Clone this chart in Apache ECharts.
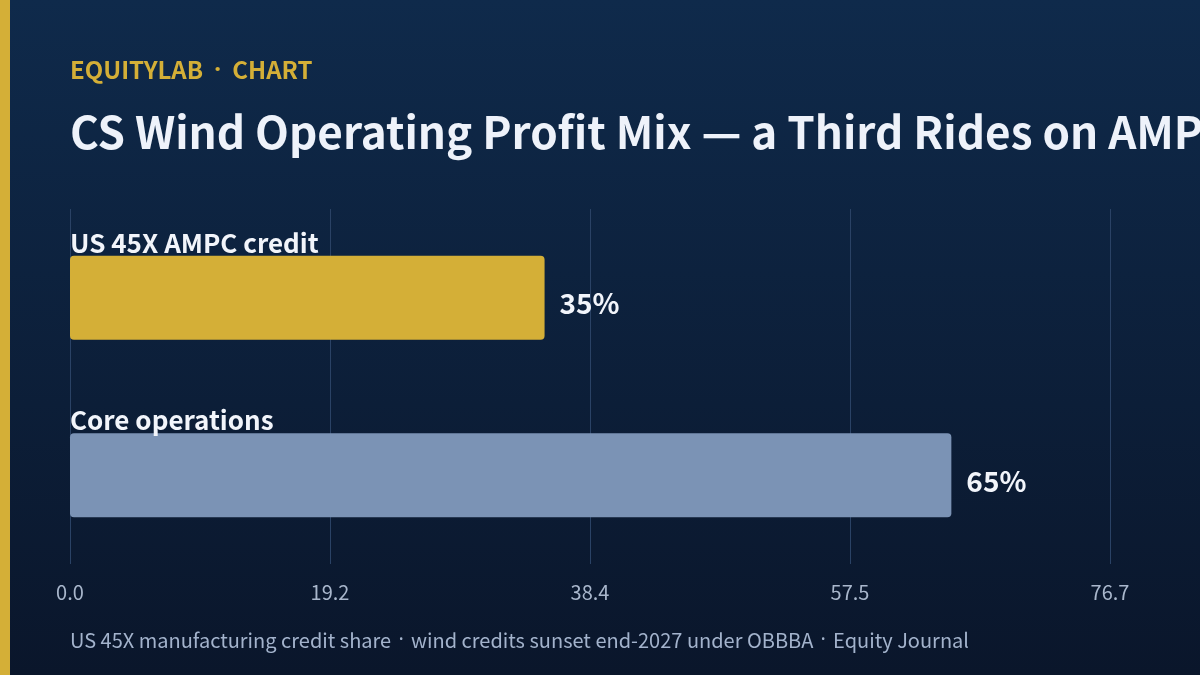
<!DOCTYPE html>
<html>
<head>
<meta charset="utf-8">
<script src="https://cdn.jsdelivr.net/npm/echarts@6/dist/echarts.min.js"></script>
<style>
  html, body { margin: 0; padding: 0; background: #0b1a31; }
  #chart { width: 1200px; height: 675px; }
</style>
</head>
<body>
<div id="chart"></div>
<script>
var categories = ['US 45X AMPC credit', 'Core operations'];
var shares = [35, 65];
var barColors = ['#d4af37', '#7b93b5'];
var axisMax = 76.7;

var font = '"Noto Sans CJK SC", "Noto Sans", sans-serif';
var dotFont = '"Noto Sans", sans-serif';

var chart = echarts.init(document.getElementById('chart'));
var option = {
    backgroundColor: {
        type: 'linear', x: 0, y: 0, x2: 0, y2: 1,
        colorStops: [
            { offset: 0, color: '#0f2a4b' },
            { offset: 1, color: '#0a162b' }
        ]
    },
    textStyle: { fontFamily: font },
    graphic: [
        { type: 'rect', left: 0, top: 0, shape: { width: 10, height: 675 }, style: { fill: '#d4af37' } }
    ],
    title: [
        {
            text: 'EQUITYLAB{d| · }CHART',
            left: 70, top: 58, padding: 0,
            textStyle: {
                color: '#d4af37', fontSize: 24, fontWeight: 'bold', fontFamily: font,
                rich: { d: { color: '#d4af37', fontSize: 24, fontWeight: 'bold', fontFamily: dotFont, padding: [0, 5] } }
            }
        },
        {
            text: 'CS Wind Operating Profit Mix — a Third Rides on AMPC',
            left: 70, top: 110, padding: 0,
            textStyle: { color: '#eef2fa', fontSize: 44, fontWeight: 'bold', fontFamily: font }
        },
        {
            text: 'US 45X manufacturing credit share{d| · }wind credits sunset end-2027 under OBBBA{d| · }Equity Journal',
            left: 70, top: 630, padding: 0,
            textStyle: {
                color: '#a3b3cc', fontSize: 20, fontWeight: 'normal', fontFamily: font,
                rich: { d: { color: '#a3b3cc', fontSize: 20, fontFamily: dotFont, padding: [0, 2] } }
            }
        }
    ],
    grid: { left: 70, right: 90, top: 209, bottom: 111, containLabel: false },
    xAxis: {
        type: 'value',
        min: 0,
        max: axisMax,
        interval: axisMax / 4,
        axisLine: { show: false },
        axisTick: { show: false },
        splitLine: { lineStyle: { color: '#2a4265', width: 1 } },
        axisLabel: {
            color: '#a9b7cc', fontSize: 20, margin: 18, fontFamily: font,
            formatter: function (v) { return (Math.round(v * 10) / 10).toFixed(1); }
        }
    },
    yAxis: {
        type: 'category',
        data: categories,
        inverse: true,
        z: 5,
        axisLine: { show: false },
        axisTick: { show: false },
        splitLine: { show: false },
        axisLabel: {
            inside: true,
            margin: 0,
            align: 'left',
            verticalAlign: 'bottom',
            lineHeight: 110,
            color: '#f2f5fb',
            fontSize: 26,
            fontWeight: 'bold',
            fontFamily: font
        }
    },
    series: [{
        type: 'bar',
        data: shares.map(function (v, i) {
            return { value: v, itemStyle: { color: barColors[i] } };
        }),
        barWidth: 84,
        itemStyle: { borderRadius: 4 },
        label: {
            show: true,
            position: 'right',
            distance: 15,
            offset: [0, 6],
            color: '#f2f5fb',
            fontSize: 28,
            fontWeight: 'bold',
            fontFamily: font,
            formatter: '{c}%'
        }
    }]
};
chart.setOption(option);
</script>
</body>
</html>
